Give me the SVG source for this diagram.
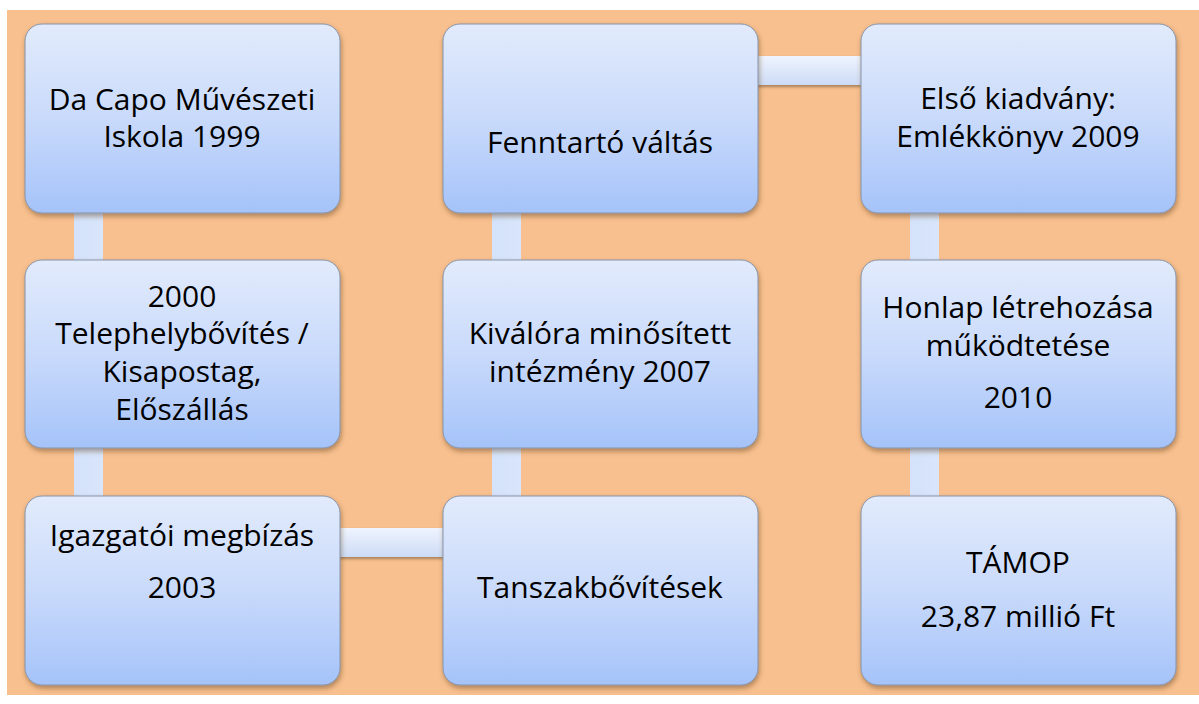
<svg xmlns="http://www.w3.org/2000/svg" width="1199" height="704" viewBox="0 0 1199 704">
<defs>
<linearGradient id="boxg" x1="0" y1="0" x2="0" y2="1">
<stop offset="0" stop-color="#e2ebfc"/>
<stop offset="0.5" stop-color="#c9dafb"/>
<stop offset="1" stop-color="#a5c3f9"/>
</linearGradient>
<linearGradient id="hcg" x1="0" y1="0" x2="0" y2="1">
<stop offset="0" stop-color="#eff4fe"/>
<stop offset="1" stop-color="#cddbf6"/>
</linearGradient>
<linearGradient id="vcg" x1="0" y1="0" x2="1" y2="0">
<stop offset="0" stop-color="#d4e2fa"/>
<stop offset="1" stop-color="#d8e5fb"/>
</linearGradient>
<filter id="sh" x="-10%" y="-10%" width="120%" height="125%">
<feDropShadow dx="1" dy="3" stdDeviation="2.5" flood-color="#5a3a1a" flood-opacity="0.45"/>
</filter>
<filter id="csh" x="-10%" y="-30%" width="120%" height="180%">
<feDropShadow dx="0" dy="2" stdDeviation="1.5" flood-color="#5a3a1a" flood-opacity="0.5"/>
</filter>
</defs>
<style>
.box{fill:url(#boxg);stroke:#8794a8;stroke-width:1;filter:url(#sh)}
.hc{fill:url(#hcg);filter:url(#csh)}
.vc{fill:url(#vcg)}
text{font-family:"Open Sans","Liberation Sans",sans-serif;font-size:30px;fill:#000;text-anchor:middle}
</style>
<rect x="7" y="10" width="1192" height="685" fill="#f8c08f"/>
<g id="connectors">
<rect class="vc" x="74" y="200" width="29" height="70"/>
<rect class="vc" x="74" y="440" width="29" height="66"/>
<rect class="vc" x="492" y="200" width="29" height="70"/>
<rect class="vc" x="492" y="440" width="29" height="66"/>
<rect class="vc" x="910" y="200" width="29" height="70"/>
<rect class="vc" x="910" y="440" width="29" height="66"/>
<rect class="hc" x="335" y="528" width="113" height="29"/>
<rect class="hc" x="753" y="56" width="113" height="29"/>
</g>
<g id="n1"><rect class="box" x="25" y="24" width="315" height="189" rx="17"/>
<text x="182" y="110">Da Capo Művészeti</text><text x="182" y="147">Iskola 1999</text></g>
<g id="n2"><rect class="box" x="25" y="260" width="315" height="188" rx="17"/>
<text x="182" y="307">2000</text><text x="182" y="344">Telephelybővítés /</text><text x="182" y="382">Kisapostag,</text><text x="182" y="420">Előszállás</text></g>
<g id="n3"><rect class="box" x="25" y="496" width="315" height="189" rx="17"/>
<text x="182" y="546">Igazgatói megbízás</text><text x="182" y="598">2003</text></g>
<g id="n4"><rect class="box" x="443" y="24" width="315" height="189" rx="17"/>
<text x="600" y="153">Fenntartó váltás</text></g>
<g id="n5"><rect class="box" x="443" y="260" width="315" height="188" rx="17"/>
<text x="600" y="344">Kiválóra minősített</text><text x="600" y="382">intézmény 2007</text></g>
<g id="n6"><rect class="box" x="443" y="496" width="315" height="189" rx="17"/>
<text x="600" y="598">Tanszakbővítések</text></g>
<g id="n7"><rect class="box" x="861" y="24" width="315" height="189" rx="17"/>
<text x="1018" y="109">Első kiadvány:</text><text x="1018" y="147">Emlékkönyv 2009</text></g>
<g id="n8"><rect class="box" x="861" y="260" width="315" height="188" rx="17"/>
<text x="1018" y="318">Honlap létrehozása</text><text x="1018" y="356">működtetése</text><text x="1018" y="408">2010</text></g>
<g id="n9"><rect class="box" x="861" y="496" width="315" height="189" rx="17"/>
<text x="1018" y="573">TÁMOP</text><text x="1018" y="627">23,87 millió Ft</text></g>
</svg>
